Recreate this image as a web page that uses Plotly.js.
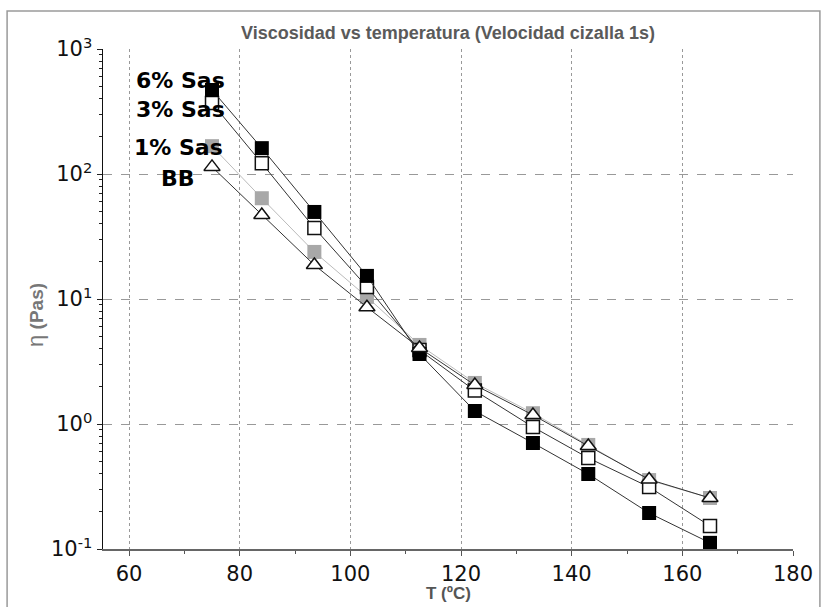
<!DOCTYPE html>
<html>
<head>
<meta charset="utf-8">
<script src="https://cdn.plot.ly/plotly-3.0.1.min.js"></script>
<style>html,body{margin:0;padding:0;background:#fff;}#chart{width:827px;height:607px;}</style>
</head>
<body>
<div id="chart"></div>
<script>
// Temperatures (ºC)
const temps = [75, 84, 93.5, 103, 112.5, 122.5, 133, 143, 154, 165];
// Viscosity (Pa·s) per series
const sas6 = [470, 161, 49.7, 15.3, 3.63, 1.27, 0.705, 0.398, 0.194, 0.112];
const sas3 = [370, 122, 37, 12.5, 3.9, 1.85, 0.946, 0.535, 0.313, 0.153];
const sas1 = [167, 64, 23.8, 10.4, 4.29, 2.13, 1.22, 0.68, 0.356, 0.256];
const bb   = [114, 47, 18.7, 8.6, 4.06, 2.05, 1.18, 0.667, 0.36, 0.256];
const seriesNames = ['6% Sas', '3% Sas', '1% Sas', 'BB'];

const xTicks = [60, 80, 100, 120, 140, 160, 180];
const yTicks = [0.1, 1, 10, 100, 1000];
const yTickText = ['10<sup>-1</sup>', '10<sup>0</sup>', '10<sup>1</sup>', '10<sup>2</sup>', '10<sup>3</sup>'];
const yMinor = [];
[0.1, 1, 10, 100].forEach(d => { for (let k = 2; k <= 9; k++) yMinor.push(+(d * k).toPrecision(3)); });
const xMinor = [70, 90, 110, 130, 150, 170];

const traces = [
  {x: temps, y: sas1, name: seriesNames[2], mode: 'lines+markers',
   line: {color: '#bbbbbb', width: 1},
   marker: {symbol: 'square', size: 14, color: '#a8a8a8', line: {width: 0}}},
  {x: temps, y: sas3, name: seriesNames[1], mode: 'lines+markers',
   line: {color: '#333333', width: 1},
   marker: {symbol: 'square', size: 13, color: '#ffffff', line: {color: '#111111', width: 1.5}}},
  {x: temps, y: sas6, name: seriesNames[0], mode: 'lines+markers',
   line: {color: '#333333', width: 1},
   marker: {symbol: 'square', size: 14, color: '#000000', line: {width: 0}}},
  {x: temps, y: bb, name: seriesNames[3], mode: 'lines+markers',
   line: {color: '#333333', width: 1},
   marker: {symbol: 'triangle-up', size: 14, color: '#ffffff', line: {color: '#111111', width: 1.5}}}
];

const labelFont = {family: 'DejaVu Sans, sans-serif', size: 22, weight: 'bold', color: '#000'};

const layout = {
  width: 827, height: 607,
  margin: {l: 103, r: 34, t: 49, b: 58},
  paper_bgcolor: '#ffffff', plot_bgcolor: '#ffffff',
  showlegend: false,
  font: {family: 'DejaVu Sans, Liberation Sans, Arial, sans-serif', color: '#000'},
  title: {
    text: '<b>Viscosidad vs temperatura (Velocidad cizalla 1s)</b>',
    font: {family: 'Liberation Sans, Arial, sans-serif', size: 18, color: '#5a5a5a'},
    x: 0.5, xref: 'paper', y: 1 - 33 / 607, yref: 'container', yanchor: 'middle'
  },
  xaxis: {
    range: [55.3, 180], tickmode: 'array', tickvals: xTicks,
    ticktext: xTicks.map(String),
    ticks: 'outside', ticklen: 5, tickcolor: '#555',
    tickfont: {size: 21, family: 'DejaVu Sans, sans-serif', color: '#111'},
    showline: true, linecolor: '#666', linewidth: 1.5, mirror: false,
    showgrid: true, gridcolor: '#999999', gridwidth: 1, griddash: 'dot',
    zeroline: false,
    minor: {tickmode: 'array', tickvals: xMinor, ticks: 'outside', ticklen: 3, tickcolor: '#555', showgrid: false}
  },
  yaxis: {
    type: 'log', range: [-1, 3], tickmode: 'array', tickvals: yTicks, ticktext: yTickText,
    ticks: 'outside', ticklen: 5, tickcolor: '#222',
    tickfont: {size: 21, family: 'DejaVu Sans, sans-serif', color: '#111'},
    showline: true, linecolor: '#111', linewidth: 1.5, mirror: false,
    showgrid: true, gridcolor: '#999999', gridwidth: 1, griddash: 'dash',
    zeroline: false,
    minor: {tickmode: 'array', tickvals: yMinor, ticks: 'outside', ticklen: 3, tickcolor: '#222', showgrid: false}
  },
  shapes: [
    {type: 'rect', xref: 'paper', yref: 'paper', x0: -0.139, x1: 1.039, y0: -0.13, y1: 1.076,
     line: {color: '#9a9a9a', width: 1.5}, fillcolor: 'rgba(0,0,0,0)', layer: 'below'}
  ],
  annotations: [
    {text: '<b>T (ºC)</b>', xref: 'paper', yref: 'paper', x: 0.5, y: -0.088,
     showarrow: false, xanchor: 'center', yanchor: 'middle',
     font: {family: 'Liberation Sans, Arial, sans-serif', size: 17, color: '#555555'}},
    {text: '<span style="font-size:22px">η</span> <b>(Pas)</b>', xref: 'paper', yref: 'paper', x: -0.0986, y: 0.468, textangle: -90,
     showarrow: false, xanchor: 'center', yanchor: 'middle',
     font: {family: 'Liberation Sans, Arial, sans-serif', size: 19, color: '#777777'}},
    {text: seriesNames[0], xref: 'paper', yref: 'paper', x: 0.113, y: 0.938, showarrow: false,
     xanchor: 'center', yanchor: 'middle', font: labelFont},
    {text: seriesNames[1], xref: 'paper', yref: 'paper', x: 0.1116, y: 0.880, showarrow: false,
     xanchor: 'center', yanchor: 'middle', font: labelFont},
    {text: seriesNames[2], xref: 'paper', yref: 'paper', x: 0.110, y: 0.802, showarrow: false,
     xanchor: 'center', yanchor: 'middle', font: labelFont},
    {text: seriesNames[3], xref: 'paper', yref: 'paper', x: 0.109, y: 0.742, showarrow: false,
     xanchor: 'center', yanchor: 'middle', font: labelFont}
  ]
};

Plotly.newPlot('chart', traces, layout, {staticPlot: true, displayModeBar: false});
</script>
</body>
</html>
